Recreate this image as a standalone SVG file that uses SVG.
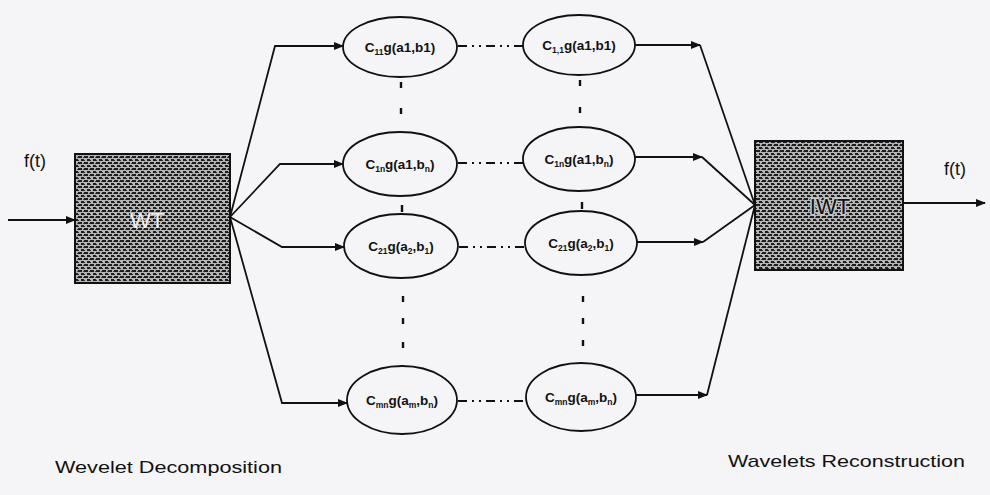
<svg xmlns="http://www.w3.org/2000/svg" width="990" height="495" viewBox="0 0 990 495">
<style>
.ln{fill:none;stroke:#111;stroke-width:1.8}
.el{fill:none;stroke:#111;stroke-width:1.8}
.dd{fill:none;stroke:#111;stroke-width:1.8;stroke-dasharray:9 5 2 5 2 5}
.vd{fill:none;stroke:#111;stroke-width:2.4}
.lab{font-family:"Liberation Sans",Arial,sans-serif;font-size:13.5px;font-weight:bold;fill:#111;text-anchor:middle}
.sub{font-size:8.5px}
.big{font-family:"Liberation Sans",Arial,sans-serif;font-size:18px;fill:#111}
.cap{font-family:"Liberation Sans",Arial,sans-serif;font-size:17px;fill:#111}
.box{stroke:#111;stroke-width:2;fill:url(#tex)}
</style>
<defs>
<pattern id="tex" width="6" height="6" patternUnits="userSpaceOnUse">
<rect width="6" height="6" fill="#b4b4b4"/>
<rect x="0" y="0" width="4" height="2" fill="#1e1e1e"/>
<rect x="3" y="3" width="3" height="2" fill="#1e1e1e"/>
<rect x="0" y="4" width="1" height="1" fill="#333"/>
<rect x="5" y="1" width="1" height="1" fill="#444"/>
</pattern>
<marker id="ar" markerWidth="10" markerHeight="8" refX="9" refY="4" orient="auto" markerUnits="userSpaceOnUse">
<path d="M0,0 L10,4 L0,8 Z" fill="#111"/>
</marker>
</defs>
<rect width="990" height="495" fill="#f5f5f7"/>

<g id="input">
<text class="big" x="24" y="167">f(t)</text>
</g>
<g id="output">
<text class="big" x="944" y="175">f(t)</text>
</g>

<g id="WT">
<rect class="box" x="75" y="154" width="155" height="129"/>
<text x="147" y="228" font-family="Liberation Sans,Arial,sans-serif" font-size="22" fill="#eeeeee" text-anchor="middle">WT</text>
</g>
<g id="IWT">
<rect class="box" x="755" y="141" width="148" height="129"/>
<text x="830" y="214" font-family="Liberation Sans,Arial,sans-serif" font-size="22" fill="#111" stroke="#c8c8c8" stroke-width="3" paint-order="stroke" stroke-linejoin="round" text-anchor="middle">IWT</text>
</g>

<g id="n11">
<ellipse class="el" cx="400" cy="47" rx="57" ry="30"/>
<text class="lab" x="400" y="52">C<tspan class="sub" dy="3">11</tspan><tspan dy="-3">g(a1,b1)</tspan></text>
</g>
<g id="n12">
<ellipse class="el" cx="579" cy="45" rx="56" ry="30"/>
<text class="lab" x="579" y="50">C<tspan class="sub" dy="3">1,1</tspan><tspan dy="-3">g(a1,b1)</tspan></text>
</g>
<g id="n21">
<ellipse class="el" cx="400" cy="164" rx="57" ry="32"/>
<text class="lab" x="400" y="169">C<tspan class="sub" dy="3">1n</tspan><tspan dy="-3">g(a1,b</tspan><tspan class="sub" dy="3">n</tspan><tspan dy="-3">)</tspan></text>
</g>
<g id="n22">
<ellipse class="el" cx="579" cy="159" rx="56" ry="32"/>
<text class="lab" x="579" y="164">C<tspan class="sub" dy="3">1n</tspan><tspan dy="-3">g(a1,b</tspan><tspan class="sub" dy="3">n</tspan><tspan dy="-3">)</tspan></text>
</g>
<g id="n31">
<ellipse class="el" cx="401" cy="246" rx="57" ry="32"/>
<text class="lab" x="401" y="251">C<tspan class="sub" dy="3">21</tspan><tspan dy="-3">g(a</tspan><tspan class="sub" dy="3">2</tspan><tspan dy="-3">,b</tspan><tspan class="sub" dy="3">1</tspan><tspan dy="-3">)</tspan></text>
</g>
<g id="n32">
<ellipse class="el" cx="581" cy="243" rx="56" ry="32"/>
<text class="lab" x="581" y="248">C<tspan class="sub" dy="3">21</tspan><tspan dy="-3">g(a</tspan><tspan class="sub" dy="3">2</tspan><tspan dy="-3">,b</tspan><tspan class="sub" dy="3">1</tspan><tspan dy="-3">)</tspan></text>
</g>
<g id="n41">
<ellipse class="el" cx="402" cy="400" rx="55" ry="34"/>
<text class="lab" x="402" y="405">C<tspan class="sub" dy="3">mn</tspan><tspan dy="-3">g(a</tspan><tspan class="sub" dy="3">m</tspan><tspan dy="-3">,b</tspan><tspan class="sub" dy="3">n</tspan><tspan dy="-3">)</tspan></text>
</g>
<g id="n42">
<ellipse class="el" cx="581" cy="397" rx="55" ry="34"/>
<text class="lab" x="581" y="402">C<tspan class="sub" dy="3">mn</tspan><tspan dy="-3">g(a</tspan><tspan class="sub" dy="3">m</tspan><tspan dy="-3">,b</tspan><tspan class="sub" dy="3">n</tspan><tspan dy="-3">)</tspan></text>
</g>

<g id="connectors">
<line class="ln" x1="8" y1="220" x2="75" y2="220" marker-end="url(#ar)"/>
<line class="ln" x1="903" y1="203" x2="985" y2="203" marker-end="url(#ar)"/>
<polyline class="ln" points="230,217 275,46 343,46" marker-end="url(#ar)"/>
<polyline class="ln" points="230,217 280,164 343,164" marker-end="url(#ar)"/>
<polyline class="ln" points="230,217 282,247 344,247" marker-end="url(#ar)"/>
<polyline class="ln" points="230,217 282,403 347,403" marker-end="url(#ar)"/>
<line class="ln" x1="635" y1="45" x2="700" y2="45" marker-end="url(#ar)"/>
<line class="ln" x1="635" y1="157" x2="702" y2="157" marker-end="url(#ar)"/>
<line class="ln" x1="637" y1="242" x2="703" y2="242" marker-end="url(#ar)"/>
<line class="ln" x1="636" y1="395" x2="707" y2="395" marker-end="url(#ar)"/>
<polyline class="ln" points="700,45 755,205"/>
<polyline class="ln" points="702,157 755,205"/>
<polyline class="ln" points="703,242 755,205"/>
<polyline class="ln" points="707,395 755,205"/>
<line class="dd" x1="458" y1="46" x2="523" y2="46"/>
<line class="dd" x1="458" y1="163" x2="523" y2="163"/>
<line class="dd" x1="459" y1="247" x2="525" y2="247"/>
<line class="dd" x1="458" y1="401" x2="526" y2="401"/>
<line class="vd" x1="401" y1="82" x2="401" y2="88"/>
<line class="vd" x1="401" y1="108" x2="401" y2="114"/>
<line class="vd" x1="580" y1="80" x2="580" y2="86"/>
<line class="vd" x1="580" y1="107" x2="580" y2="113"/>
<line class="vd" x1="402" y1="205" x2="402" y2="212"/>
<line class="vd" x1="582" y1="202" x2="582" y2="209"/>
<line class="vd" x1="403" y1="296" x2="403" y2="302"/>
<line class="vd" x1="403" y1="318" x2="403" y2="324"/>
<line class="vd" x1="403" y1="342" x2="403" y2="348"/>
<line class="vd" x1="583" y1="296" x2="583" y2="302"/>
<line class="vd" x1="583" y1="318" x2="583" y2="324"/>
<line class="vd" x1="583" y1="340" x2="583" y2="346"/>
</g>

<text class="cap" x="55" y="473" textLength="227" lengthAdjust="spacingAndGlyphs">Wevelet Decomposition</text>
<text class="cap" x="728" y="467" textLength="237" lengthAdjust="spacingAndGlyphs">Wavelets Reconstruction</text>
</svg>
